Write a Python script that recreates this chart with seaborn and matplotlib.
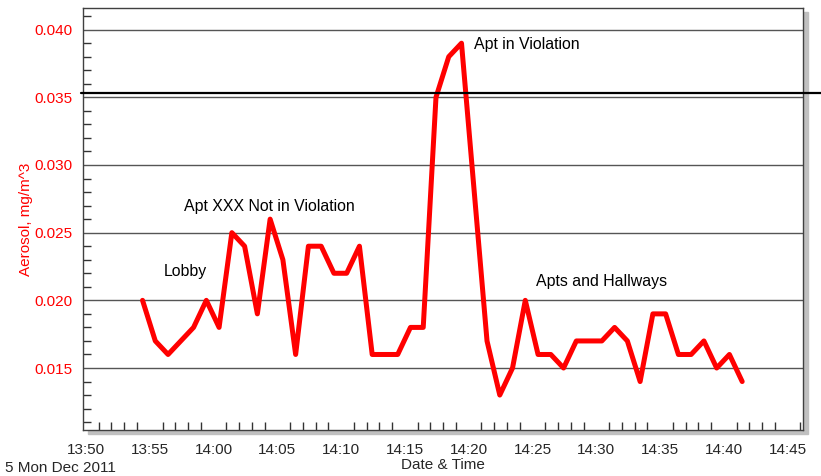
import pandas as pd
import numpy as np
import matplotlib
matplotlib.use("Agg")
import matplotlib.pyplot as plt
import matplotlib.dates as mdates
from matplotlib.patches import Rectangle
import seaborn as sns

# Aerosol logger readings, one per minute, 5 Dec 2011
start_time = "2011-12-05 13:54:26"
aerosol = [0.020, 0.017, 0.016, 0.017, 0.018, 0.020, 0.018, 0.025, 0.024, 0.019,
           0.026, 0.023, 0.016, 0.024, 0.024, 0.022, 0.022, 0.024, 0.016, 0.016,
           0.016, 0.018, 0.018, 0.035, 0.038, 0.039, 0.028, 0.017, 0.013, 0.015,
           0.020, 0.016, 0.016, 0.015, 0.017, 0.017, 0.017, 0.018, 0.017, 0.014,
           0.019, 0.019, 0.016, 0.016, 0.017, 0.015, 0.016, 0.014]
times = pd.date_range(start_time, periods=len(aerosol), freq="1min")
limit = 0.03533

labels = ["Lobby", "Apt XXX Not in Violation", "Apt in Violation", "Apts and Hallways"]
label_times = ["2011-12-05 13:57:46", "2011-12-05 13:57:41", "2011-12-05 14:20:24", "2011-12-05 14:25:16"]
label_vals = [0.0221, 0.0269, 0.0389, 0.0214]
label_ha = ["center", "left", "left", "left"]

df = pd.DataFrame({"time": times, "aerosol": aerosol})

sns.set_style("white")
plt.rcParams["font.family"] = ["Liberation Sans", "DejaVu Sans"]

fig = plt.figure(figsize=(8.21, 4.76), dpi=100)
ax = fig.add_axes([83 / 821, 1 - 430 / 476, 720 / 821, 422 / 476])

# grey drop shadow behind the plot box
fig.patches.append(Rectangle((88 / 821, 1 - 434 / 476), 720 / 821, 422 / 476,
                             transform=fig.transFigure, color="#c0c0c0", zorder=0))
ax.set_zorder(1)

sns.lineplot(data=df, x="time", y="aerosol", color="red", linewidth=3.6, ax=ax)

ax.axhline(limit, xmin=-0.003, xmax=1.025, color="black", linewidth=1.6, clip_on=False, zorder=3)

for t, v, s, ha in zip(label_times, label_vals, labels, label_ha):
    ax.text(pd.Timestamp(t), v, s, fontsize=11.4, ha=ha, va="center", color="black")

ax.set_xlim(pd.Timestamp("2011-12-05 13:49:46"), pd.Timestamp("2011-12-05 14:46:12"))
ax.set_ylim(0.01042, 0.0416)

ax.xaxis.set_major_locator(mdates.MinuteLocator(byminute=range(0, 60, 5)))
ax.xaxis.set_minor_locator(mdates.MinuteLocator())
ax.xaxis.set_major_formatter(mdates.DateFormatter("%H:%M"))
ax.set_yticks([0.015, 0.020, 0.025, 0.030, 0.035, 0.040])
ax.set_yticks(np.arange(0.011, 0.0416, 0.001), minor=True)
ax.yaxis.set_major_formatter(matplotlib.ticker.FormatStrFormatter("%.3f"))

ax.grid(axis="y", which="major", color="#555555", linewidth=1)
ax.tick_params(axis="both", which="major", direction="inout", length=8, width=1,
               labelsize=11, color="#333333")
ax.tick_params(axis="x", which="major", pad=5)
ax.tick_params(axis="both", which="minor", direction="in", length=6, width=1, color="#333333",
               bottom=True, left=True)
ax.tick_params(axis="y", labelcolor="red")
for side in ax.spines.values():
    side.set_color("#404040")
    side.set_linewidth(1)

ax.set_xlabel("Date & Time", fontsize=11, labelpad=1)
ax.set_ylabel("Aerosol, mg/m^3", fontsize=11, color="red", labelpad=1)
fig.text(5 / 821, 1 - 468 / 476, "5 Mon Dec 2011", fontsize=11, ha="left", va="center")

fig.savefig("out.png", dpi=100)
